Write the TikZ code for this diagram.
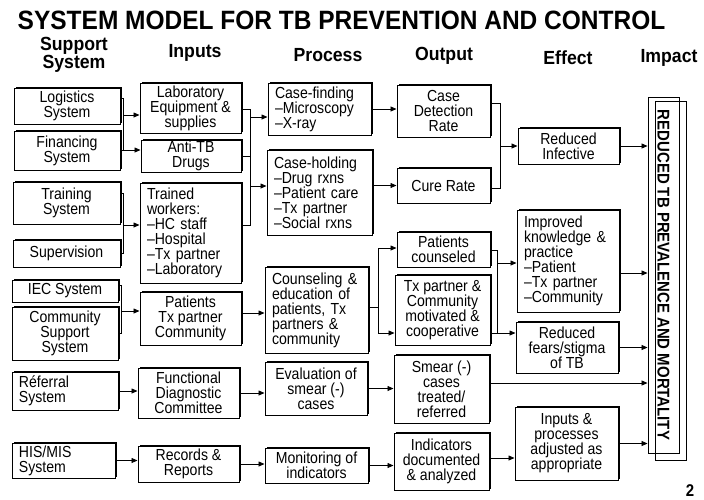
\documentclass[tikz,border=0pt]{standalone}
\usepackage{fontspec}
\setmainfont[FakeStretch=0.88]{Liberation Sans}
\newfontfamily\tbtitlefont[FakeStretch=0.924]{Liberation Sans}
\newfontfamily\tbhdrfont[FakeStretch=0.93]{Liberation Sans}
\usetikzlibrary{arrows.meta,shadows}
\newcommand\tbbox[7][]{%
  \pgfmathsetmacro\tbtw{#5-#3-14}%
  \node[box,minimum width={(#5-#3)*1pt},minimum height={(#6-#4)*1pt},#1] (#2) at ({(#3+#5)/2},{(#4+#6)/2}) {#7};}
\begin{document}
\begin{tikzpicture}[x=1pt,y=-1pt,
  box/.style={draw=black,line width=1pt,fill=white,align=center,inner sep=1pt,
    font=\fontsize{16}{15}\selectfont,
    general shadow={fill=black,shadow xshift=1.5pt,shadow yshift=1.5pt}},
  lft/.style={align=left,text width=\tbtw pt,inner xsep=7pt},
  conn/.style={line width=0.8pt},
  arr/.style={conn,-{Triangle[length=6pt,width=5pt]}},
  hdr/.style={font=\tbhdrfont\fontsize{19}{16}\selectfont\bfseries,align=center,inner sep=0pt},
  impbox/.style={draw=black,line width=0.9pt,inner sep=0pt}]
\useasboundingbox (0,0) rectangle (704,499);
\fill[white] (0,0) rectangle (704,499);
% title and headers
\node[inner sep=0pt,font=\tbtitlefont\fontsize{26.5}{28}\selectfont\bfseries] (title) at (341.5,20.5) {SYSTEM MODEL FOR TB PREVENTION AND CONTROL};
\node[hdr] (h1) at (74,55) {Support\\System};
\node[hdr] (h2) at (195,53) {Inputs};
\node[hdr] (h3) at (328,55) {Process};
\node[hdr] (h4) at (444,56) {Output};
\node[hdr] (h5) at (568,58) {Effect};
\node[hdr] (h6) at (669,58) {Impact};
\node[inner sep=0pt,font=\fontsize{17}{17}\selectfont\bfseries] (pg) at (690,491) {2};
% support system
\tbbox{log}{14}{88}{120}{124}{Logistics\\System}
\tbbox{fin}{14}{131}{120}{170}{Financing\\System}
\tbbox{trn}{13}{182}{120}{224}{Training\\System}
\tbbox{sup}{13}{240}{120}{267}{Supervision}
\tbbox{iec}{12}{280}{118}{302}{IEC System}
\tbbox{com}{12}{307}{118}{360}{Community\\Support\\System}
\tbbox[lft,inner xsep=5pt]{ref}{12}{372}{118}{410}{Réferral\\System}
\tbbox[lft,inner xsep=5pt]{his}{12}{443}{115}{478}{HIS/MIS\\System}
% inputs
\tbbox{lab}{140}{83}{241}{133}{Laboratory\\Equipment \&\\supplies}
\tbbox{drg}{141}{140}{241}{172}{Anti-TB\\Drugs}
\tbbox[lft]{twk}{140}{183}{241}{283}{Trained\\workers:\\–HC staff\\–Hospital\\–Tx partner\\–Laboratory}
\tbbox{pat}{140}{292}{241}{345}{Patients\\Tx partner\\Community}
\tbbox{fdc}{138}{368}{239}{418}{Functional\\Diagnostic\\Committee}
\tbbox{rec}{138}{446}{239}{482}{Records \&\\Reports}
% process
\tbbox[lft]{cf}{268}{83}{371}{135}{Case-finding\\–Microscopy\\–X-ray}
\tbbox[lft]{ch}{267}{150}{372}{235}{Case-holding\\–Drug rxns\\–Patient care\\–Tx partner\\–Social rxns}
\tbbox[lft]{cou}{265}{267}{368}{353}{Counseling \&\\education of\\patients, Tx\\partners \&\\community}
\tbbox{eva}{265}{362}{367}{415}{Evaluation of\\smear (-)\\cases}
\tbbox{mon}{265}{448}{368}{483}{Monitoring of\\indicators}
% output
\tbbox{cdr}{397}{85}{490}{137}{Case\\Detection\\Rate}
\tbbox{cur}{397}{168}{490}{203}{Cure Rate}
\tbbox{pc}{397}{232}{490}{267}{Patients\\counseled}
\tbbox{txp}{395}{275}{490}{345}{Tx partner \&\\Community\\motivated \&\\cooperative}
\tbbox{sme}{394}{355}{489}{423}{Smear (-)\\cases\\treated/\\referred}
\tbbox{ind}{394}{433}{489}{490}{Indicators\\documented\\\& analyzed}
% effect
\tbbox{ri}{518}{128}{619}{164}{Reduced\\Infective}
\tbbox[lft]{ik}{517}{210}{619}{312}{Improved\\knowledge \&\\practice\\–Patient\\–Tx partner\\–Community}
\tbbox{rf}{516}{322}{618}{373}{Reduced\\fears/stigma\\of TB}
\tbbox{ipa}{515}{407}{618}{480}{Inputs \&\\processes\\adjusted as\\appropriate}
% impact
\node[impbox,minimum width=31pt,minimum height=356pt] (imp) at (663.5,275) {};
\node[impbox,minimum width=31pt,minimum height=359pt] (imp2) at (670.5,280.5) {};
\node[rotate=-90,inner sep=0pt,font=\fontsize{17}{17}\selectfont\bfseries] (impt) at (imp.center) {REDUCED TB PREVALENCE AND MORTALITY};
% junction points
\coordinate (j1a) at (123,98); \coordinate (j1b) at (123,150); \coordinate (j1c) at (123,115);
\coordinate (j2a) at (123,193); \coordinate (j2b) at (123,253); \coordinate (j2c) at (123,225);
\coordinate (j3a) at (121,285); \coordinate (j3b) at (121,333); \coordinate (j3c) at (121,311);
\coordinate (j4a) at (250,109); \coordinate (j4b) at (250,225); \coordinate (j4c) at (250,117); \coordinate (j4d) at (250,186);
\coordinate (j5) at (253,313);
\coordinate (j6) at (378,307); \coordinate (j6a) at (378,248); \coordinate (j6b) at (378,333);
\coordinate (j7a) at (500,103); \coordinate (j7b) at (500,188); \coordinate (j7c) at (500,146);
\coordinate (j8a) at (497,250); \coordinate (j8b) at (497,333); \coordinate (j8c) at (497,263);
\coordinate (j9) at (500,383); \coordinate (j10) at (500,458); \coordinate (j11) at (630,273);
% support -> inputs
\draw[conn] (log.east |- j1a) -- (j1a) -- (j1b);
\draw[arr] (j1c) -- (lab.west |- j1c);
\draw[arr] (fin.east |- j1b) -- (drg.west |- j1b);
\draw[conn] (trn.east |- j2a) -- (j2a) -- (j2b) -- (sup.east |- j2b);
\draw[arr] (j2c) -- (twk.west |- j2c);
\draw[conn] (iec.east |- j3a) -- (j3a) -- (j3b) -- (com.east |- j3b);
\draw[arr] (j3c) -- (pat.west |- j3c);
\draw[arr] (ref.east) -- (fdc.west |- ref.east);
\draw[arr] (his.east) -- (rec.west |- his.east);
% inputs -> process
\draw[conn] (lab.east |- j4a) -- (j4a) -- (j4b) -- (twk.east |- j4b);
\draw[conn] (drg.east) -- (j4a |- drg.east);
\draw[arr] (j4c) -- (cf.west |- j4c);
\draw[arr] (j4d) -- (ch.west |- j4d);
\draw[arr] (pat.east |- j5) -- (cou.west |- j5);
\draw[arr] (fdc.east) -- (eva.west |- fdc.east);
\draw[arr] (rec.east) -- (mon.west |- rec.east);
% process -> output
\draw[arr] (cf.east) -- (cdr.west |- cf.east);
\draw[arr] (ch.east |- cur.west) -- (cur.west);
\draw[conn] (cou.east |- j6) -- (j6);
\draw[arr] (j6b) -- (j6a) -- (pc.west |- j6a);
\draw[arr] (j6b) -- (txp.west |- j6b);
\draw[arr] (eva.east) -- (sme.west |- eva.east);
\draw[arr] (mon.east) -- (ind.west |- mon.east);
% output -> effect
\draw[conn] (cdr.east |- j7a) -- (j7a) -- (j7b) -- (cur.east |- j7b);
\draw[arr] (j7c) -- (ri.west |- j7c);
\draw[conn] (pc.east |- j8a) -- (j8a) -- (j8b);
\draw[arr] (j8c) -- (ik.west |- j8c);
\draw[arr] (txp.east |- j8b) -- (rf.west |- j8b);
\draw[arr] (sme.east |- j9) -- (imp.west |- j9);
\draw[arr] (ind.east |- j10) -- (ipa.west |- j10);
% effect -> impact
\draw[arr] (ri.east) -- (imp.west |- ri.east);
\draw[arr] (ik.east |- j11) -- (imp.west |- j11);
\draw[arr] (rf.east) -- (imp.west |- rf.east);
\draw[arr] (ipa.east) -- (imp.west |- ipa.east);
\end{tikzpicture}
\end{document}
